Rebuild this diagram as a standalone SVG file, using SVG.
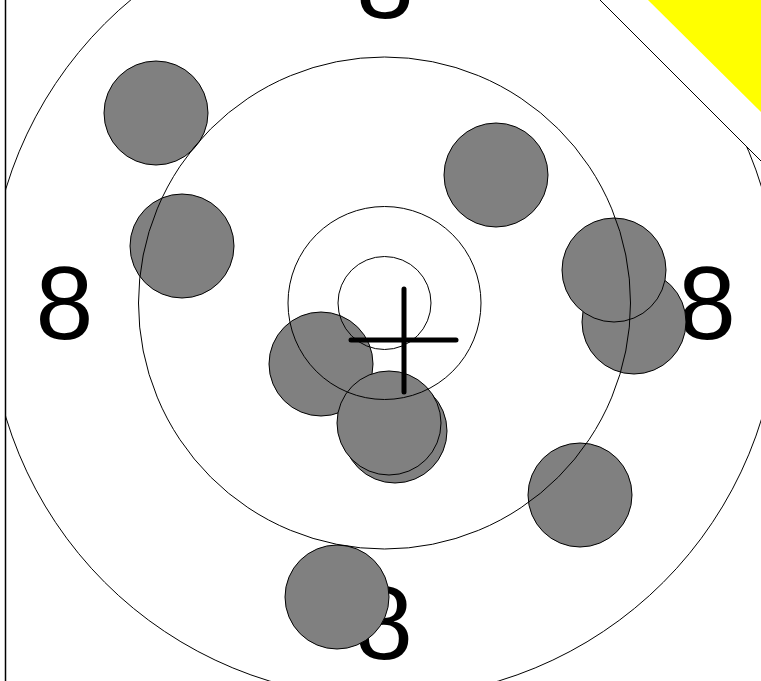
<svg xmlns="http://www.w3.org/2000/svg" width="761" height="681" viewBox="0 0 761 681">
<style>
.ring{fill:none;stroke:#000;stroke-width:1}
.shot{fill:#808080;stroke:#000;stroke-width:1}
.num{font-family:"Liberation Sans",Arial,sans-serif;font-size:104px;fill:#000;text-anchor:middle}
.cross{stroke:#000;stroke-width:5;stroke-linecap:round}
</style>
<rect x="0" y="0" width="761" height="681" fill="#fff"/>
<circle id="outer-ring" class="ring" cx="384" cy="303" r="395"/>
<g id="labels">
<text class="num" x="385" y="18">8</text>
<text class="num" x="64.5" y="339">8</text>
<text class="num" x="707" y="339">8</text>
<text class="num" x="384" y="659">8</text>
</g>
<g id="shots">
<circle class="shot" cx="156" cy="113" r="52"/>
<circle class="shot" cx="182" cy="246" r="52"/>
<circle class="shot" cx="496" cy="175" r="52"/>
<circle class="shot" cx="634" cy="322" r="52"/>
<circle class="shot" cx="614" cy="270" r="52"/>
<circle class="shot" cx="321" cy="364" r="52"/>
<circle class="shot" cx="395" cy="431" r="52"/>
<circle class="shot" cx="389" cy="423" r="52"/>
<circle class="shot" cx="580" cy="495" r="52"/>
<circle class="shot" cx="337" cy="597" r="52"/>
</g>
<g id="rings">
<circle class="ring" cx="384.5" cy="303" r="246"/>
<circle class="ring" cx="384.5" cy="303" r="96.5"/>
<circle class="ring" cx="384.5" cy="303" r="46.5"/>
</g>
<g id="crosshair">
<line class="cross" x1="404" y1="289" x2="404" y2="392"/>
<line class="cross" x1="351" y1="340" x2="456" y2="340"/>
</g>
<g id="corner">
<polygon points="600,0 761,0 761,161" fill="#fff" stroke="none"/>
<line x1="600" y1="0" x2="761" y2="161" stroke="#000" stroke-width="1"/>
<polygon points="648,0 761,0 761,112" fill="#ffff00"/>
</g>
<rect x="0" y="0" width="5" height="681" fill="#fff"/>
<line x1="5.5" y1="0" x2="5.5" y2="681" stroke="#000" stroke-width="1.5"/>
</svg>
